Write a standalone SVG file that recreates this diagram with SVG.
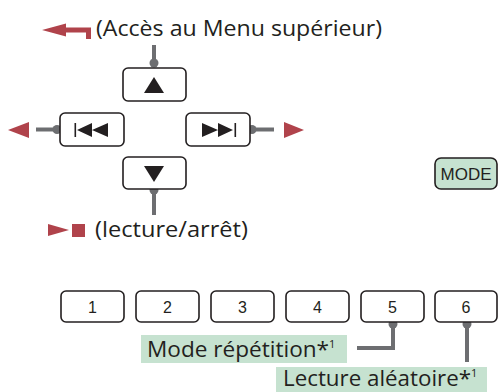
<svg xmlns="http://www.w3.org/2000/svg" width="498" height="392" viewBox="0 0 498 392">
<style>
.btn{fill:#fff;stroke:#231f20;stroke-width:1.6}
.sym{fill:#231f20}
.red{fill:#b0434b}
.con{stroke:#6d6e71;stroke-width:4;fill:none}
.dot{fill:#6d6e71}
.lbl{font-family:"Open Sans","Noto Sans",sans-serif;font-size:22px;fill:#231f20}
.num{font-family:"Liberation Sans",Arial,sans-serif;font-size:16px;fill:#231f20;text-anchor:middle}
.tag{fill:#c6e2d0}
.sup{font-size:11px}
</style>
<rect width="498" height="392" fill="#fff"/>
<g id="connectors">
  <path class="con" d="M154 45V63"/>
  <circle class="dot" cx="154" cy="63" r="4.5"/>
  <path class="con" d="M36 129.5H57"/>
  <circle class="dot" cx="57" cy="129.5" r="4.5"/>
  <path class="con" d="M252 129.5H274"/>
  <circle class="dot" cx="252" cy="129.5" r="4.5"/>
  <path class="con" d="M154 190V215"/>
  <circle class="dot" cx="154" cy="190" r="4.5"/>
  <path class="con" d="M393 324V348H357"/>
  <circle class="dot" cx="393" cy="324" r="4.5"/>
  <path class="con" d="M467 324V362"/>
  <circle class="dot" cx="467" cy="324" r="4.5"/>
</g>
<g id="top-label">
  <path class="red" d="M42 30L66 23.5V27.5H91V39H86V32.5H66V36.5Z"/>
  <text class="lbl" x="96" y="36" textLength="286" lengthAdjust="spacingAndGlyphs">(Accès au Menu supérieur)</text>
</g>
<g id="btn-up">
  <rect class="btn" x="123" y="68" width="63" height="33" rx="5"/>
  <path class="sym" d="M154 77L164 93H144Z"/>
</g>
<g id="btn-prev">
  <rect class="btn" x="60" y="113" width="64" height="33" rx="5"/>
  <rect class="sym" x="74.5" y="123" width="1.6" height="14"/>
  <path class="sym" d="M77 130L92 123V137Z M92 130L108 123V137Z"/>
  <path class="red" d="M8 130L29 122V138Z"/>
</g>
<g id="btn-next">
  <rect class="btn" x="186" y="113" width="64" height="33" rx="5"/>
  <path class="sym" d="M202 123L218 130L202 137Z M218 123L233 130L218 137Z"/>
  <rect class="sym" x="234.5" y="123" width="1.6" height="14"/>
  <path class="red" d="M304 130L284 122V138Z"/>
</g>
<g id="btn-down">
  <rect class="btn" x="123" y="157" width="63" height="32" rx="5"/>
  <path class="sym" d="M144 166H164L154 182Z"/>
</g>
<g id="play-label">
  <path class="red" d="M48 224L69 230L48 236Z"/>
  <rect class="red" x="72" y="224" width="13" height="13"/>
  <text class="lbl" x="95" y="237" textLength="153" lengthAdjust="spacingAndGlyphs">(lecture/arrêt)</text>
</g>
<g id="btn-mode">
  <rect x="435" y="158" width="62" height="31" rx="6" fill="#c6e2d0" stroke="#231f20" stroke-width="1.6"/>
  <text class="num" x="466" y="180" style="font-size:17px">MODE</text>
</g>
<g id="btn-1"><rect class="btn" x="61" y="291" width="63" height="31" rx="5"/><text class="num" x="92.5" y="313">1</text></g>
<g id="btn-2"><rect class="btn" x="136" y="291" width="63" height="31" rx="5"/><text class="num" x="167.5" y="313">2</text></g>
<g id="btn-3"><rect class="btn" x="211" y="291" width="63" height="31" rx="5"/><text class="num" x="242.5" y="313">3</text></g>
<g id="btn-4"><rect class="btn" x="286" y="291" width="63" height="31" rx="5"/><text class="num" x="317.5" y="313">4</text></g>
<g id="btn-5"><rect class="btn" x="361" y="291" width="63" height="31" rx="5"/><text class="num" x="392.5" y="313">5</text></g>
<g id="btn-6"><rect class="btn" x="435" y="291" width="62" height="31" rx="5"/><text class="num" x="466" y="313">6</text></g>
<g id="label-repeat">
  <rect class="tag" x="141" y="335" width="206" height="28"/>
  <text class="lbl" x="147" y="357"><tspan textLength="182" lengthAdjust="spacingAndGlyphs">Mode répétition*</tspan><tspan class="sup" dy="-9">1</tspan></text>
</g>
<g id="label-random">
  <rect class="tag" x="276" y="367" width="211" height="25"/>
  <text class="lbl" x="283" y="386"><tspan textLength="188" lengthAdjust="spacingAndGlyphs">Lecture aléatoire*</tspan><tspan class="sup" dy="-9">1</tspan></text>
</g>
</svg>
